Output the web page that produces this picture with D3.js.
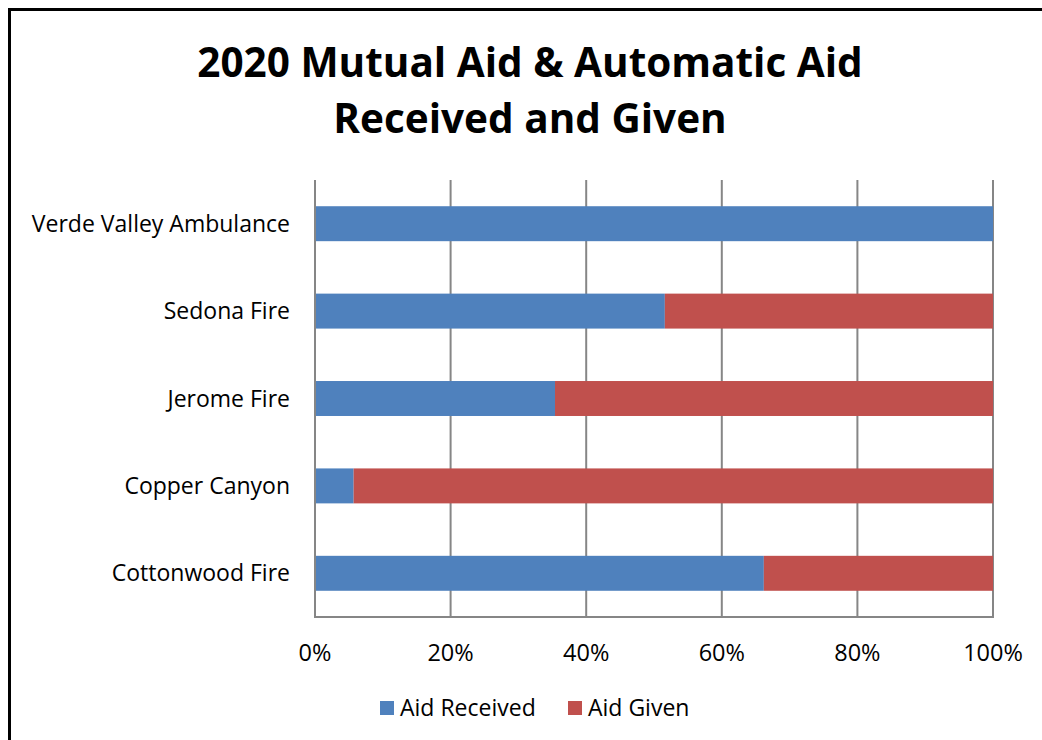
<!DOCTYPE html>
<html lang="en">
<head>
<meta charset="UTF-8">
<title>2020 Mutual Aid & Automatic Aid</title>
<script src="https://cdnjs.cloudflare.com/ajax/libs/d3/7.8.5/d3.min.js"></script>
<style>
    body { margin: 0; padding: 0; background: #fff; }
    svg { display: block; font-family: "Open Sans", "Liberation Sans", Arial, sans-serif; }
    .grid line { stroke: #868686; stroke-width: 2px; }
    .cat text { font-size: 23px; fill: #000; }
    .tick-label { font-size: 23.5px; fill: #000; }
</style>
</head>
<body>
<div id="chart"></div>
<script>
    // data (share of total, %)
    const categories = ["Verde Valley Ambulance", "Sedona Fire", "Jerome Fire", "Copper Canyon", "Cottonwood Fire"];
    const aidReceived = [100, 51.6, 35.4, 5.7, 66.2];
    const aidGiven = [0, 48.4, 64.6, 94.3, 33.8];
    const seriesNames = ["Aid Received", "Aid Given"];
    const seriesColors = ["#4F81BD", "#C0504D"];
    const tickValues = [0, 20, 40, 60, 80, 100];
    const titleLines = ["2020 Mutual Aid & Automatic Aid", "Received and Given"];

    const W = 1042, H = 740;
    const plot = { left: 315, right: 993, top: 180, bottom: 617 };

    const svg = d3.select("#chart").append("svg")
        .attr("width", W).attr("height", H);

    // outer frame
    svg.append("rect")
        .attr("x", 9.5).attr("y", 9.5)
        .attr("width", 1100).attr("height", 800)
        .attr("fill", "none").attr("stroke", "#000").attr("stroke-width", 3);

    // title
    svg.selectAll(".title")
        .data(titleLines)
        .enter().append("text")
        .attr("class", "title")
        .attr("x", 530)
        .attr("y", (d, i) => 77 + i * 56)
        .attr("text-anchor", "middle")
        .style("font-family", "'Open Sans', 'Liberation Sans', sans-serif")
        .style("font-weight", "bold")
        .style("font-size", "40.5px")
        .text(d => d);

    const x = d3.scaleLinear().domain([0, 100]).range([plot.left, plot.right]);
    const y = d3.scaleBand().domain(categories).range([plot.top, plot.bottom]).paddingInner(0.6).paddingOuter(0.3);

    // vertical gridlines
    svg.append("g").attr("class", "grid")
        .selectAll("line")
        .data(tickValues)
        .enter().append("line")
        .attr("x1", d => x(d)).attr("x2", d => x(d))
        .attr("y1", plot.top).attr("y2", plot.bottom);

    // bottom axis line
    svg.append("line")
        .attr("x1", plot.left - 1).attr("x2", plot.right + 1)
        .attr("y1", plot.bottom).attr("y2", plot.bottom)
        .attr("stroke", "#868686").attr("stroke-width", 2);

    // stacked bars
    const rows = categories.map((c, i) => ({ cat: c, "Aid Received": aidReceived[i], "Aid Given": aidGiven[i] }));
    const stacked = d3.stack().keys(seriesNames)(rows);

    svg.append("g").selectAll("g")
        .data(stacked)
        .enter().append("g")
        .attr("fill", (d, i) => seriesColors[i])
        .selectAll("rect")
        .data(d => d)
        .enter().append("rect")
        .attr("x", d => x(d[0]))
        .attr("y", d => y(d.data.cat))
        .attr("width", d => x(d[1]) - x(d[0]))
        .attr("height", y.bandwidth());

    // redraw left axis line above bars
    svg.append("line")
        .attr("x1", plot.left).attr("x2", plot.left)
        .attr("y1", plot.top).attr("y2", plot.bottom + 1)
        .attr("stroke", "#868686").attr("stroke-width", 2);

    // category labels
    svg.append("g").attr("class", "cat")
        .selectAll("text")
        .data(categories)
        .enter().append("text")
        .attr("x", 290)
        .attr("y", d => y(d) + y.bandwidth() / 2)
        .attr("dy", "0.35em")
        .attr("text-anchor", "end")
        .text(d => d);

    // x tick labels
    svg.append("g")
        .selectAll("text")
        .data(tickValues)
        .enter().append("text")
        .attr("class", "tick-label")
        .attr("x", d => x(d))
        .attr("y", 661)
        .attr("text-anchor", "middle")
        .text(d => d + "%");

    // legend
    const legendX = [380, 568];
    const legend = svg.append("g").selectAll("g")
        .data(seriesNames)
        .enter().append("g")
        .attr("transform", (d, i) => `translate(${legendX[i]},708)`);
    legend.append("rect")
        .attr("x", 0).attr("y", -7)
        .attr("width", 14).attr("height", 14)
        .attr("fill", (d, i) => seriesColors[i]);
    legend.append("text")
        .attr("x", 20).attr("y", 0)
        .attr("dy", "0.35em")
        .style("font-size", "23px")
        .text(d => d);
</script>
</body>
</html>
